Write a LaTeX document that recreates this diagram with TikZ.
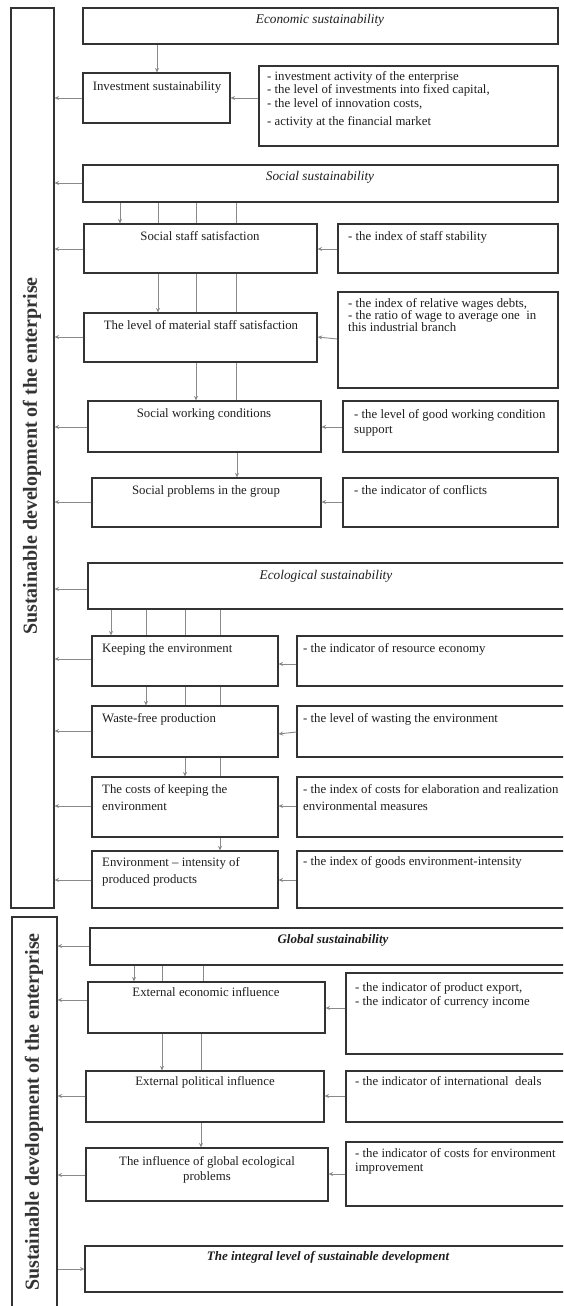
\documentclass[tikz,border=0pt]{standalone}
\usepackage{fontspec}
\setmainfont{Liberation Serif}
\usetikzlibrary{arrows.meta,fit}
\definecolor{boxc}{HTML}{333333}
\definecolor{arrc}{HTML}{8A8A8A}
\definecolor{textc}{HTML}{1E1E1E}
\tikzset{
  box/.style={draw=boxc, line width=1.1pt, inner sep=0pt},
  arr/.style={draw=arrc, line width=0.9pt, -{Stealth[length=4.5pt,width=4pt]}},
  ln/.style={draw=arrc, line width=0.9pt},
  txt/.style={inner sep=0pt, text=textc, font=\fontsize{12.8}{14}\selectfont},
  ml/.style={txt, anchor=north west, align=left, font=\fontsize{12.8}{#1}\selectfont},
  ttl/.style={txt, font=\fontsize{13.3}{15}\selectfont\itshape},
  bttl/.style={txt, font=\fontsize{13}{15}\selectfont\bfseries\itshape},
  side/.style={inner sep=0pt, text=boxc, font=\fontsize{20}{22}\selectfont\bfseries, rotate=90}
}
\begin{document}
\begin{tikzpicture}[x=1pt,y=-1pt]
\useasboundingbox (0,0) rectangle (563,1306);
\clip (0,0) rectangle (563,1306);
% side boxes
\node[box, fit={(11,8)(54,908)}] (left1) {};
\node[side] (left1t) at (32,456) {Sustainable development of the enterprise};
\node[box, fit={(12,917)(57,1320)}] (left2) {};
\node[side] (left2t) at (34,1112) {Sustainable development of the enterprise};
% economic
\node[box, fit={(83,8)(558,44)}] (econ) {};
\node[ttl, anchor=mid] (econt) at (320,21) {Economic sustainability};
\node[box, fit={(83,73)(230,123)}] (inv) {};
\node[txt, anchor=mid] (invt) at (157,88) {Investment sustainability};
\node[box, fit={(259,66)(558,146)}] (info1) {};
\node[ml=12.5] (info1t) at (267,71.6) {- investment activity of the enterprise\\- the level of investments into fixed capital,\\[1.5pt]- the level of innovation costs,\\[6pt]- activity at the financial market};
% social
\node[box, fit={(83,165)(558,202)}] (soc) {};
\node[ttl, anchor=mid] (soct) at (320,178) {Social sustainability};
\node[box, fit={(84,224)(317,273)}] (staff) {};
\node[txt, anchor=mid] (stafft) at (200,238) {Social staff satisfaction};
\node[box, fit={(338,224)(558,273)}] (staffi) {};
\node[txt, anchor=mid west] (staffit) at (348,238) {- the index of staff stability};
\node[box, fit={(84,313)(317,362)}] (mat) {};
\node[txt, anchor=mid] (matt) at (201,327) {The level of material staff satisfaction};
\node[box, fit={(338,292)(558,388)}] (mati) {};
\node[ml=12] (matit) at (348,298.6) {- the index of relative wages debts,\\- the ratio of wage to average one~ in\\this industrial branch};
\node[box, fit={(88,401)(321,452)}] (work) {};
\node[txt, anchor=mid] (workt) at (204,415) {Social working conditions};
\node[box, fit={(343,401)(558,452)}] (worki) {};
\node[ml=15] (workit) at (354,409.6) {- the level of good working condition\\support};
\node[box, fit={(92,478)(321,527)}] (prob) {};
\node[txt, anchor=mid] (probt) at (206,492) {Social problems in the group};
\node[box, fit={(343,478)(558,527)}] (probi) {};
\node[txt, anchor=mid west] (probit) at (354,492) {- the indicator of conflicts};
% ecological
\node[box, fit={(88,563)(575,609)}] (eco) {};
\node[ttl, anchor=mid] (ecot) at (326,577) {Ecological sustainability};
\node[box, fit={(92,636)(278,686)}] (keep) {};
\node[txt, anchor=mid west] (keept) at (102,650) {Keeping the environment};
\node[box, fit={(297,636)(575,686)}] (keepi) {};
\node[txt, anchor=mid west] (keepit) at (303,650) {- the indicator of resource economy};
\node[box, fit={(92,706)(278,757)}] (waste) {};
\node[txt, anchor=mid west] (wastet) at (102,720) {Waste-free production};
\node[box, fit={(297,706)(575,757)}] (wastei) {};
\node[txt, anchor=mid west] (wasteit) at (303,720) {- the level of wasting the environment};
\node[box, fit={(92,777)(278,837)}] (costs) {};
\node[ml=17] (costst) at (102,784.6) {The costs of keeping the\\environment};
\node[box, fit={(297,777)(575,837)}] (costsi) {};
\node[ml=17] (costsit) at (303,784.6) {- the index of costs for elaboration and realization\\environmental measures};
\node[box, fit={(92,851)(278,908)}] (env) {};
\node[ml=17] (envt) at (102,857.6) {Environment -- intensity of\\produced products};
\node[box, fit={(297,851)(575,908)}] (envi) {};
\node[txt, anchor=mid west] (envit) at (303,863) {- the index of goods environment-intensity};
% global
\node[box, fit={(90,928)(575,965)}] (glob) {};
\node[bttl, anchor=mid] (globt) at (333,941) {Global sustainability};
\node[box, fit={(88,982)(325,1033)}] (ext) {};
\node[txt, anchor=mid] (extt) at (206,994) {External economic influence};
\node[box, fit={(346,973)(575,1054)}] (exti) {};
\node[ml=14] (extit) at (355,982.6) {- the indicator of product export,\\- the indicator of currency income};
\node[box, fit={(86,1071)(324,1122)}] (pol) {};
\node[txt, anchor=mid] (polt) at (205,1083) {External political influence};
\node[box, fit={(346,1071)(575,1122)}] (poli) {};
\node[txt, anchor=mid west] (polit) at (355,1083) {- the indicator of international~ deals};
\node[box, fit={(86,1148)(328,1201)}] (infl) {};
\node[txt, anchor=north, align=center, font=\fontsize{12.8}{15}\selectfont] (inflt) at (207,1156.6) {The influence of global ecological\\problems};
\node[box, fit={(346,1142)(575,1206)}] (infli) {};
\node[ml=14] (inflit) at (355,1148.6) {- the indicator of costs for environment\\improvement};
\node[box, fit={(85,1246)(575,1292)}] (integ) {};
\node[bttl, anchor=mid] (integt) at (328,1258) {The integral level of sustainable development};
% connectors: economic
\draw[arr] (econ.south -| 157,0) -- (inv.north -| 157,0);
\draw[arr] (info1.west |- 0,98) -- (inv.east |- 0,98);
\draw[arr] (inv.west |- 0,98) -- (left1.east |- 0,98);
% social
\draw[arr] (soc.west |- 0,183) -- (left1.east |- 0,183);
\draw[arr] (soc.south -| 120,0) -- (staff.north -| 120,0);
\foreach \xx in {158,196,236} \draw[ln] (soc.south -| \xx,0) -- (staff.north -| \xx,0);
\draw[arr] (staffi.west |- 0,249) -- (staff.east |- 0,249);
\draw[arr] (staff.west |- 0,249) -- (left1.east |- 0,249);
\draw[arr] (staff.south -| 158,0) -- (mat.north -| 158,0);
\foreach \xx in {196,236} \draw[ln] (staff.south -| \xx,0) -- (mat.north -| \xx,0);
\draw[arr] (mati.west |- 0,339) -- (mat.east |- 0,337);
\draw[arr] (mat.west |- 0,337) -- (left1.east |- 0,337);
\draw[arr] (mat.south -| 196,0) -- (work.north -| 196,0);
\draw[ln] (mat.south -| 236,0) -- (work.north -| 236,0);
\draw[arr] (worki.west |- 0,427) -- (work.east |- 0,427);
\draw[arr] (work.west |- 0,427) -- (left1.east |- 0,427);
\draw[arr] (work.south -| 237,0) -- (prob.north -| 237,0);
\draw[arr] (probi.west |- 0,502) -- (prob.east |- 0,502);
\draw[arr] (prob.west |- 0,502) -- (left1.east |- 0,502);
% ecological
\draw[arr] (eco.west |- 0,589) -- (left1.east |- 0,589);
\draw[arr] (eco.south -| 111,0) -- (keep.north -| 111,0);
\foreach \xx in {146,185,220} \draw[ln] (eco.south -| \xx,0) -- (keep.north -| \xx,0);
\draw[arr] (keepi.west |- 0,664) -- (keep.east |- 0,664);
\draw[arr] (keep.west |- 0,659) -- (left1.east |- 0,659);
\draw[arr] (keep.south -| 146,0) -- (waste.north -| 146,0);
\foreach \xx in {185,220} \draw[ln] (keep.south -| \xx,0) -- (waste.north -| \xx,0);
\draw[arr] (wastei.west |- 0,732) -- (waste.east |- 0,734);
\draw[arr] (waste.west |- 0,731) -- (left1.east |- 0,731);
\draw[arr] (waste.south -| 185,0) -- (costs.north -| 185,0);
\draw[ln] (waste.south -| 220,0) -- (costs.north -| 220,0);
\draw[arr] (costsi.west |- 0,806) -- (costs.east |- 0,806);
\draw[arr] (costs.west |- 0,806) -- (left1.east |- 0,806);
\draw[arr] (costs.south -| 220,0) -- (env.north -| 220,0);
\draw[arr] (envi.west |- 0,880) -- (env.east |- 0,880);
\draw[arr] (env.west |- 0,880) -- (left1.east |- 0,880);
% global
\draw[arr] (glob.west |- 0,946) -- (left2.east |- 0,946);
\draw[arr] (glob.south -| 134,0) -- (ext.north -| 134,0);
\foreach \xx in {162,203} \draw[ln] (glob.south -| \xx,0) -- (ext.north -| \xx,0);
\draw[arr] (exti.west |- 0,1008) -- (ext.east |- 0,1008);
\draw[arr] (ext.west |- 0,1000) -- (left2.east |- 0,1000);
\draw[arr] (ext.south -| 162,0) -- (pol.north -| 162,0);
\draw[ln] (ext.south -| 201,0) -- (pol.north -| 201,0);
\draw[arr] (poli.west |- 0,1096) -- (pol.east |- 0,1096);
\draw[arr] (pol.west |- 0,1096) -- (left2.east |- 0,1096);
\draw[arr] (pol.south -| 201,0) -- (infl.north -| 201,0);
\draw[arr] (infli.west |- 0,1174) -- (infl.east |- 0,1174);
\draw[arr] (infl.west |- 0,1175) -- (left2.east |- 0,1175);
\draw[arr] (left2.east |- 0,1269) -- (integ.west |- 0,1269);
\end{tikzpicture}
\end{document}
